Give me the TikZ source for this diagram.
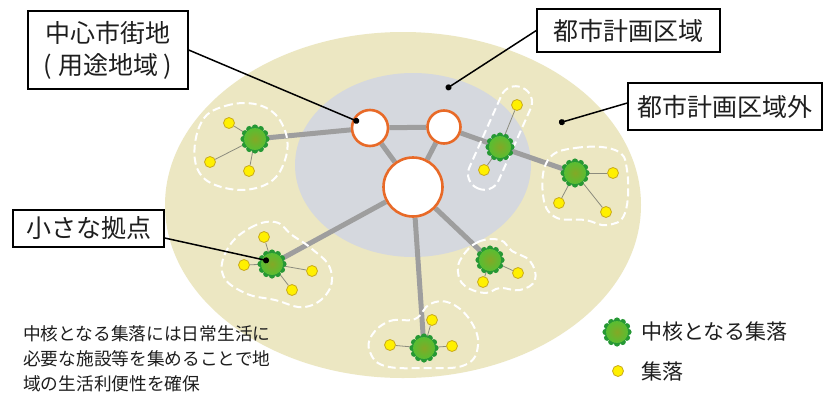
\documentclass[tikz,border=0pt]{standalone}
\usepackage{fontspec}
\setmainfont{Noto Sans CJK JP}
\usetikzlibrary{arrows.meta,calc}
\definecolor{beige}{RGB}{236,231,194}
\definecolor{cityarea}{RGB}{213,216,222}
\definecolor{roadgray}{RGB}{158,158,158}
\definecolor{orangeedge}{RGB}{232,106,40}
\definecolor{coredark}{RGB}{38,152,52}
\definecolor{corelight}{RGB}{88,190,50}
\definecolor{coreolive}{RGB}{132,168,38}
\definecolor{villfill}{RGB}{255,240,0}
\definecolor{villedge}{RGB}{200,170,30}
\definecolor{thinline}{RGB}{140,140,125}
\definecolor{txt}{RGB}{30,30,30}
\pgfdeclarelayer{bg}\pgfdeclarelayer{roads}\pgfdeclarelayer{blobs}
\pgfsetlayers{bg,roads,blobs,main}
\tikzset{
 road/.style={draw=roadgray, line width=5pt},
 twig/.style={draw=thinline, line width=0.8pt},
 blob/.style={draw=white, line width=2pt, dash pattern=on 8pt off 4pt},
 hub/.style={circle, draw=orangeedge, line width=2.6pt, fill=white, inner sep=0pt},
 core/.style={circle, inner sep=0pt, minimum size=22pt, shading=radial, inner color=coreolive, outer color=corelight},
 vill/.style={circle, inner sep=0pt, minimum size=11pt, fill=villfill, draw=villedge, line width=0.8pt},
 labelbox/.style={draw=black, line width=1.4pt, fill=white, inner sep=0pt, text=txt, font=\fontsize{25}{32}\selectfont, align=center},
 leader/.style={draw=black, line width=1.5pt, -{Circle[length=6pt]}},
 plain/.style={inner sep=0pt, text=txt},
}
\newcommand\CoreVillage[2]{%
 \foreach \ang in {0,30,...,330}{\fill[coredark] (#2) ++(\ang:11.5) circle (3.1);}
 \node[core] (#1) at (#2) {};}
\begin{document}
\begin{tikzpicture}[x=1pt,y=-1pt]
\useasboundingbox (0,0) rectangle (830,394);
\begin{pgfonlayer}{bg}
 \fill[white] (0,0) rectangle (830,394);
 \fill[beige] (403,205) ellipse [x radius=238, y radius=173];
 \fill[cityarea] (413,165) ellipse [x radius=118, y radius=92];
\end{pgfonlayer}
% hubs
\node[hub, minimum size=36pt] (hl) at (370,128) {};
\node[hub, minimum size=33pt] (hr) at (444,127) {};
\node[hub, minimum size=59pt] (hb) at (413,187) {};
% core villages
\CoreVillage{g1}{255,139}
\CoreVillage{g2}{500,147}
\CoreVillage{g3}{575,173}
\CoreVillage{g4}{490,260}
\CoreVillage{g5}{424,348}
\CoreVillage{g6}{272,264}
% villages
\node[vill] (y1a) at (229,123) {};
\node[vill] (y1b) at (210,162) {};
\node[vill] (y1c) at (249,171) {};
\node[vill] (y2a) at (517,105) {};
\node[vill] (y2b) at (484,170) {};
\node[vill] (y3a) at (613,173) {};
\node[vill] (y3b) at (559,203) {};
\node[vill] (y3c) at (606,212) {};
\node[vill] (y4a) at (518,273) {};
\node[vill] (y4b) at (483,282) {};
\node[vill] (y5a) at (432,320) {};
\node[vill] (y5b) at (390,345) {};
\node[vill] (y5c) at (452,346) {};
\node[vill] (y6a) at (264,237) {};
\node[vill] (y6b) at (244,265) {};
\node[vill] (y6c) at (312,271) {};
\node[vill] (y6d) at (292,290) {};
\begin{pgfonlayer}{roads}
 \draw[road] (hl) -- (g1);
 \draw[road] (hl) -- (hr);
 \draw[road] (hl) -- (hb);
 \draw[road] (hr) -- (hb);
 \draw[road] (hr) -- (g2);
 \draw[road] (g2) -- (g3);
 \draw[road] (hb) -- (g6);
 \draw[road] (hb) -- (g5);
 \draw[road] (hb) -- (g4);
 \foreach \g/\y in {g1/y1a,g1/y1b,g1/y1c,g2/y2a,g2/y2b,g3/y3a,g3/y3b,g3/y3c,g4/y4a,g4/y4b,g5/y5a,g5/y5b,g5/y5c,g6/y6a,g6/y6b,g6/y6c,g6/y6d}
  {\draw[twig] (\g) -- (\y);}
\end{pgfonlayer}
\begin{pgfonlayer}{blobs}
 \draw[blob] plot[smooth cycle, tension=0.7] coordinates {(200,125) (225,106) (262,106) (284,128) (285,160) (265,185) (225,188) (197,168)};
 \draw[blob, rotate around={66:(500,138)}, rounded corners=15.5pt] (445,122) rectangle (555,154);
 \draw[blob] plot[smooth cycle, tension=0.7] coordinates {(548,160) (575,148) (615,150) (627,170) (625,213) (607,225) (585,220) (555,217) (543,195)};
 \draw[blob] plot[smooth cycle, tension=0.7] coordinates {(462,257) (478,242) (500,240) (512,251) (530,261) (535,280) (520,290) (500,288) (485,293) (465,286) (458,272)};
 \draw[blob] plot[smooth cycle, tension=0.7] coordinates {(372,335) (390,321) (415,319) (430,304) (450,303) (470,320) (478,345) (465,365) (425,368) (385,366) (370,352)};
 \draw[blob] plot[smooth cycle, tension=0.7] coordinates {(228,248) (250,228) (275,222) (292,235) (312,249) (330,268) (328,292) (305,307) (275,300) (245,293) (223,275)};
\end{pgfonlayer}
% label boxes
\node[labelbox, minimum width=160pt, minimum height=78pt] (cbox) at (108,50) {中心市街地\\( 用途地域 )};
\node[labelbox, minimum width=183pt, minimum height=43pt] (tbox) at (628.5,30.5) {都市計画区域};
\node[labelbox, minimum width=194pt, minimum height=47pt] (obox) at (725,106.5) {都市計画区域外};
\node[labelbox, minimum width=151pt, minimum height=37pt] (sbox) at (88.5,228.5) {小さな拠点};
% leaders
\coordinate (dl) at (359,122);
\coordinate (dt) at (446,89);
\coordinate (do) at (559,123);
\coordinate (ds) at (269,261);
\draw[leader] (cbox.east) -- (dl);
\draw[leader] (tbox.west) -- (dt);
\draw[leader] ($(obox.west)+(0,-3.5)$) -- (do);
\draw[leader] ($(sbox.east)+(0,9.5)$) -- (ds);
% note
\node[plain, anchor=north west, align=left, font=\fontsize{17.7}{25}\selectfont] (note) at (23,325) {中核となる集落には日常生活に\\必要な施設等を集めることで地\\域の生活利便性を確保};
% legend
\CoreVillage{lg}{617,332}
\node[vill] (ly) at (618,371) {};
\node[plain, anchor=west, font=\fontsize{21}{25}\selectfont] (lgt) at (641,332) {中核となる集落};
\node[plain, anchor=west, font=\fontsize{21}{25}\selectfont] (lyt) at (641,371) {集落};
\end{tikzpicture}
\end{document}
